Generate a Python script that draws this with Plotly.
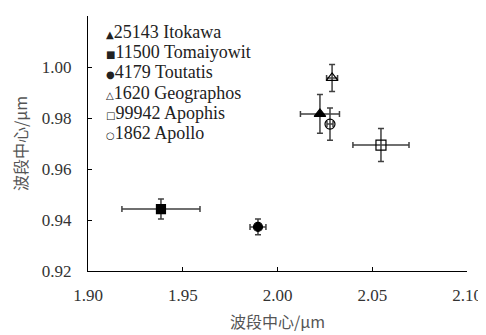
import plotly.graph_objects as go

names = ["25143 Itokawa", "11500 Tomaiyowit", "4179 Toutatis",
         "1620 Geographos", "99942 Apophis", "1862 Apollo"]
band2_center = [2.0224, 1.9385, 1.9897, 2.0288, 2.0546, 2.0277]
band1_center = [0.9816, 0.9443, 0.9373, 0.9957, 0.9694, 0.9776]
band2_err = [0.0103, 0.0206, 0.0042, 0.0029, 0.0148, 0.0016]
band1_err = [0.0076, 0.0039, 0.0031, 0.0053, 0.0065, 0.0063]
symbols = ["triangle-up", "square", "circle", "triangle-up-open", "square-open", "circle-open"]
sizes = [10, 9, 9, 10, 10, 10]
glyphs = ["▲", "■", "●", "△", "□", "○"]

x_ticks = [1.90, 1.95, 2.00, 2.05, 2.10]
y_ticks = [0.92, 0.94, 0.96, 0.98, 1.00, 1.02]

SERIF = "Liberation Serif"

fig = go.Figure()
for i, n in enumerate(names):
    fig.add_trace(go.Scatter(
        x=[band2_center[i]], y=[band1_center[i]], mode="markers", name=n,
        marker=dict(symbol=symbols[i], size=sizes[i], color="black",
                    line=dict(color="black", width=1.2)),
        error_x=dict(type="data", array=[band2_err[i]], color="#404040", thickness=1.5, width=3),
        error_y=dict(type="data", array=[band1_err[i]], color="#404040", thickness=1.5, width=3),
        showlegend=False))

# legend drawn as text rows
for i, n in enumerate(names):
    fig.add_annotation(
        xref="paper", yref="paper", x=0.042, y=0.937 - i * 0.0792,
        xanchor="left", yanchor="middle", showarrow=False,
        text=f"<span style='font-size:10px;font-family:DejaVu Sans'>{glyphs[i]}</span>{n}",
        font=dict(family=SERIF, size=18, color="#222"))

cn_font = dict(family="Noto Sans CJK SC", size=16, color="#555")
tick_font = dict(family=SERIF, size=17, color="#333")
fig.update_layout(
    width=486, height=335,
    margin=dict(l=80, r=27, t=8, b=72),
    plot_bgcolor="white", paper_bgcolor="white",
    font=dict(family=SERIF, size=17, color="#333"),
    xaxis=dict(range=[1.90, 2.10], tickvals=x_ticks, ticktext=[f"{v:.2f}" for v in x_ticks],
               tickfont=tick_font,
               showline=True, linecolor="black", linewidth=1.2, mirror=False,
               ticks="inside", ticklen=4, tickcolor="black", showgrid=False, zeroline=False,
               ticklabelstandoff=8,
               title=dict(text="波段中心/μm", font=cn_font, standoff=13)),
    yaxis=dict(range=[0.92, 1.02], tickvals=y_ticks, ticktext=[f"{v:.2f}" for v in y_ticks],
               tickfont=tick_font,
               showline=True, linecolor="black", linewidth=1.2, mirror=False,
               ticks="inside", ticklen=4, tickcolor="black", showgrid=False, zeroline=False,
               ticklabelstandoff=12,
               title=dict(text="波段中心/μm", font=cn_font, standoff=10)),
)
fig.write_html("out.html")
